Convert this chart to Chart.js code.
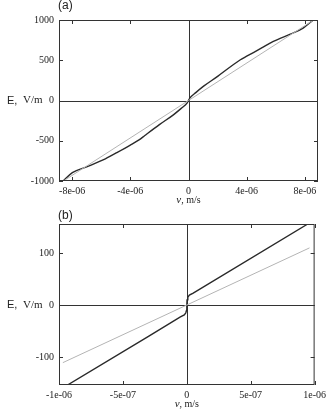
<!DOCTYPE html>
<html>
<head>
<meta charset="utf-8">
<script src="https://cdn.jsdelivr.net/npm/chart.js@4.4.1/dist/chart.umd.min.js"></script>
<style>
    html, body { margin: 0; padding: 0; background: #fff; }
    .panel { position: absolute; left: 0; width: 330px; height: 205px; }
    #panelA { top: 0; }
    #panelB { top: 204px; }
</style>
</head>
<body>
<div class="panel" id="panelA"><canvas id="chartA" width="330" height="205"></canvas></div>
<div class="panel" id="panelB"><canvas id="chartB" width="330" height="205"></canvas></div>
<script>
// Panel (a): velocity (m/s) vs field (V/m)
const darkVA = [-8.62e-6, -7.98e-6, -7e-6, -5.83e-6, -5e-6, -4e-6, -3.4e-6, -3e-6, -2e-6, -1.04e-6, -0.5e-6, -0.1e-6, 0,
                0.1e-6, 0.5e-6, 1.04e-6, 2e-6, 3e-6, 3.54e-6, 4e-6, 5e-6, 5.83e-6, 7e-6, 7.88e-6, 8.57e-6];
const darkEA = [-1000, -897, -825, -735, -655, -555, -490, -435, -300, -178, -98, -32, 0,
                32, 98, 178, 300, 435, 503, 550, 650, 735, 825, 900, 1000];
const grayVA = [-8.6e-6, 0, 8.6e-6];
const grayEA = [-1000, 0, 1000];
const xTicksA = [-8e-6, -4e-6, 0, 4e-6, 8e-6];
const yTicksA = [-1000, -500, 0, 500, 1000];

// Panel (b): zoom near the origin
const darkVB = [-0.94e-6, -0.3e-6, -0.05e-6, -0.02e-6, -0.008e-6, -0.002e-6, 0,
                0.002e-6, 0.008e-6, 0.02e-6, 0.05e-6, 0.94e-6];
const darkEB = [-155, -60.4, -23, -19, -15, -10, 0,
                10, 15, 19, 23, 155];
const grayVB = [-0.97e-6, 0, 0.96e-6];
const grayEB = [-111, 0, 110];
const xTicksB = [-1e-6, -5e-7, 0, 5e-7, 1e-6];
const yTicksB = [-100, 0, 100];

const serif = "'Liberation Serif', 'DejaVu Serif', serif";
const sans = "'Liberation Sans', 'DejaVu Sans', sans-serif";
Chart.defaults.font.family = serif;
Chart.defaults.font.size = 10;
Chart.defaults.color = '#222';

function sci(v) {
    if (v === 0) return '0';
    return v.toExponential().replace(/e([+-])(\d)$/, 'e$10$2');
}

function points(xs, ys) {
    return xs.map((x, i) => ({ x: x, y: ys[i] }));
}

// Frame, zero lines, inward ticks and the loose labels
const framePlugin = {
    id: 'frame',
    beforeDatasetsDraw(chart) {
        const ctx = chart.ctx;
        const a = chart.chartArea;
        const x0 = Math.round(chart.scales.x.getPixelForValue(0)) + 0.5;
        const y0 = Math.round(chart.scales.y.getPixelForValue(0)) + 0.5;
        ctx.save();
        ctx.strokeStyle = '#333';
        ctx.lineWidth = 1;
        ctx.beginPath();
        ctx.moveTo(a.left, y0); ctx.lineTo(a.right, y0);
        ctx.moveTo(x0, a.top); ctx.lineTo(x0, a.bottom);
        ctx.stroke();
        ctx.restore();
    },
    afterDatasetsDraw(chart, args, opts) {
        const ctx = chart.ctx;
        const a = chart.chartArea;
        const xs = chart.scales.x, ys = chart.scales.y;
        const len = 4;
        ctx.save();
        ctx.strokeStyle = '#333';
        ctx.lineWidth = 1;
        ctx.strokeRect(a.left + 0.5, a.top + 0.5, a.right - a.left - 1, a.bottom - a.top - 1);
        ctx.beginPath();
        xs.ticks.forEach(t => {
            const px = Math.round(xs.getPixelForValue(t.value)) + 0.5;
            ctx.moveTo(px, a.bottom); ctx.lineTo(px, a.bottom - len);
            ctx.moveTo(px, a.top); ctx.lineTo(px, a.top + len);
        });
        ys.ticks.forEach(t => {
            const py = Math.round(ys.getPixelForValue(t.value)) + 0.5;
            ctx.moveTo(a.left, py); ctx.lineTo(a.left + len, py);
            ctx.moveTo(a.right, py); ctx.lineTo(a.right - len, py);
        });
        ctx.stroke();

        // panel letter
        ctx.fillStyle = '#222';
        ctx.textBaseline = 'middle';
        ctx.textAlign = 'left';
        ctx.font = '12px ' + sans;
        ctx.fillText(opts.letter, 58, opts.letterY);

        // y title beside the zero tick
        const yz = ys.getPixelForValue(0);
        ctx.font = '11px ' + sans;
        ctx.fillText('E,', 7, yz);
        ctx.font = '11px ' + serif;
        ctx.fillText('V/m', 23, yz);

        // x title, centred under zero
        const xz = xs.getPixelForValue(0);
        ctx.font = 'italic 11px ' + serif;
        const w1 = ctx.measureText('v').width;
        ctx.font = '10px ' + serif;
        const w2 = ctx.measureText(', m/s').width;
        const left = xz - (w1 + w2) / 2;
        ctx.font = 'italic 11px ' + serif;
        ctx.fillText('v', left, 200);
        ctx.font = '10px ' + serif;
        ctx.fillText(', m/s', left + w1, 200);
        ctx.restore();
    }
};

function makeChart(id, dark, gray, xRange, yRange, xTicks, yTicks, letter, letterY, smooth) {
    const ctx = document.getElementById(id).getContext('2d');
    return new Chart(ctx, {
        type: 'scatter',
        data: {
            datasets: [{
                data: gray,
                showLine: true,
                borderColor: '#b4b4b4',
                borderWidth: 1,
                pointRadius: 0,
                tension: 0
            }, {
                data: dark,
                showLine: true,
                borderColor: '#2a2a2a',
                borderWidth: 1.4,
                pointRadius: 0,
                cubicInterpolationMode: smooth ? 'monotone' : 'default',
                tension: 0
            }]
        },
        options: {
            responsive: false,
            animation: false,
            events: [],
            layout: { padding: { top: 20, right: 12, left: 0, bottom: 0 } },
            plugins: {
                legend: { display: false },
                tooltip: { enabled: false },
                frame: { letter: letter, letterY: letterY }
            },
            scales: {
                x: {
                    type: 'linear',
                    min: xRange[0],
                    max: xRange[1],
                    grid: { display: false, drawTicks: false },
                    border: { display: false },
                    afterBuildTicks: s => { s.ticks = xTicks.map(v => ({ value: v })); },
                    afterFit: s => { s.height = 24; },
                    ticks: { padding: 4, maxRotation: 0, autoSkip: false, callback: v => sci(v) }
                },
                y: {
                    type: 'linear',
                    min: yRange[0],
                    max: yRange[1],
                    grid: { display: false, drawTicks: false },
                    border: { display: false },
                    afterBuildTicks: s => { s.ticks = yTicks.map(v => ({ value: v })); },
                    afterFit: s => { s.width = 59; },
                    ticks: { padding: 5, autoSkip: false, callback: v => String(v) }
                }
            }
        },
        plugins: [framePlugin]
    });
}

makeChart('chartA', points(darkVA, darkEA), points(grayVA, grayEA),
    [-8.9e-6, 8.9e-6], [-1000, 1000], xTicksA, yTicksA, '(a)', 6, true);
makeChart('chartB', points(darkVB, darkEB), points(grayVB, grayEB),
    [-1e-6, 1e-6], [-154, 156], xTicksB, yTicksB, '(b)', 12, false);
</script>
</body>
</html>
